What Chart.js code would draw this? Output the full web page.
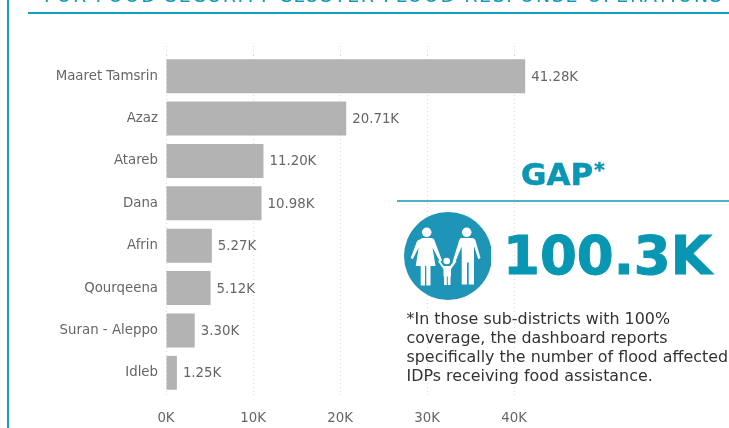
<!DOCTYPE html>
<html><head><meta charset="utf-8">
<script src="https://cdn.jsdelivr.net/npm/chart.js@4"></script>
<style>
html,body{margin:0;padding:0;background:#fff;width:729px;height:428px;overflow:hidden;font-family:"DejaVu Sans",sans-serif}
#wrap{position:absolute;left:0;top:0;width:729px;height:428px}
.a{position:absolute;white-space:nowrap}
#frame{left:7px;top:0;width:2px;height:428px;background:#13a0bd}
#title{left:44px;top:-16px;font-size:19px;letter-spacing:1.6px;color:#1199b8}
#rule{left:28px;top:12px;width:701px;height:1.5px;background:#0fa0bd}
#gap{left:521px;top:154px;font-size:31px;font-weight:bold;color:#0a97b3;line-height:40px;-webkit-text-stroke:.5px #0a97b3}
#gap sup{font-size:20px;line-height:0;vertical-align:9px;margin-left:1px}
#rule2{left:397px;top:200px;width:332px;height:1.5px;background:#4fb1c8}
#big{left:503px;top:224px;font-size:53px;font-weight:bold;color:#0897b2;line-height:64px;-webkit-text-stroke:1px #0897b2}
#note{left:406.500px;top:309px;font-size:15.900px;line-height:19px;color:#333}
#icon{left:404px;top:212px;width:87px;height:88px;overflow:hidden}
</style></head><body>
<div id="wrap">
<canvas id="c" width="729" height="428" style="position:absolute;left:0;top:0;width:729px;height:428px"></canvas>
<div class="a" id="frame"></div>
<div class="a" id="title">FOR FOOD SECURITY CLUSTER FLOOD RESPONSE OPERATIONS</div>
<div class="a" id="rule"></div>
<div class="a" id="gap">GAP<sup>*</sup></div>
<div class="a" id="rule2"></div>
<svg class="a" id="icon" viewBox="0 0 87 88">
<circle cx="44" cy="44" r="44" fill="#1e94b7"/>
<g fill="#fff">
<circle cx="22.700" cy="20.300" r="4.800"/>
<path d="M18 26h9.500c1.500 0 2.500 1 3 2.500l7.500 20-2 1.300-7.500-14.300 3 18.500h-5v19.500h-4.200v-19.500h-1.300v19.500h-4.300v-19.500h-5l3-18.500-6 11.800-2-1.300 6-16c.8-1.700 2-2.500 3.300-2.500z"/>
<circle cx="62.700" cy="20.300" r="4.800"/>
<path d="M57 26h11c1.700 0 2.800 1 3.500 2.500l5 17.500-2.200 1.300-4.300-13.300v38.500h-5.300v-22h-1.700v22h-5.300v-38l-7 17-2.200-1.300 6.500-21.500c.5-1.700 1.500-2.700 2-2.700z"/>
<circle cx="42.700" cy="49" r="3.300"/>
<path d="M39.500 54h6.500l5-6 1.500 1.300-5.500 8v7.200h-.5v8.500h-2.700v-8.500h-1v8.500h-2.800v-8.500h-.5v-7.200l-5.500-8 1.500-1.300z"/>
</g></svg>
<div class="a" id="big">100.3K</div>
<div class="a" id="note">*In those sub-districts with 100%<br>coverage, the dashboard reports<br>specifically the number of flood affected<br>IDPs receiving food assistance.</div>
</div>
<script>
const categories = ["Maaret Tamsrin","Azaz","Atareb","Dana","Afrin","Qourqeena","Suran - Aleppo","Idleb"];
const values = [41280,20710,11200,10980,5270,5120,3300,1250];
const valueLabels = ["41.28K","20.71K","11.20K","10.98K","5.27K","5.12K","3.30K","1.25K"];
const xTicks = [0,10000,20000,30000,40000];

const FONT = {family:'"DejaVu Sans", sans-serif', size:13.33};
const GREY = '#666666';
const GRID = '#d8d8d8';
const fixTicks = s => { s.ticks = xTicks.map(v => ({value:v})); };
const labelPlugin = {
  id:'barLabels',
  afterDatasetsDraw(chart){
    const ctx = chart.ctx, meta = chart.getDatasetMeta(0);
    ctx.save();
    ctx.font = FONT.size+'px '+FONT.family;
    ctx.fillStyle = GREY; ctx.textAlign='left'; ctx.textBaseline='middle';
    meta.data.forEach((b,i)=>ctx.fillText(valueLabels[i], b.x+6, b.y+1));
    ctx.restore();
  }
};
new Chart(document.getElementById('c'),{
  type:'bar',
  data:{labels:categories,datasets:[{data:values,backgroundColor:'#b3b3b3',borderWidth:0,barPercentage:0.8,categoryPercentage:1}]},
  plugins:[labelPlugin],
  options:{
    indexAxis:'y',responsive:false,animation:false,devicePixelRatio:1,
    layout:{padding:{top:46,right:0,bottom:0,left:0}},
    plugins:{legend:{display:false},tooltip:{enabled:false},title:{display:false}},
    scales:{
      x:{type:'linear',position:'bottom',min:0,max:64700,
        afterBuildTicks:fixTicks,
        afterFit(s){s.height=34;},
        border:{display:false,dash:[1,3]},
        grid:{color:GRID,lineWidth:1,tickLength:3,tickColor:GRID,tickBorderDash:[1,3]},
        ticks:{font:FONT,color:GREY,padding:14,maxRotation:0,autoSkip:false,callback:v=>(v/1000)+'K'}},
      xTop:{type:'linear',position:'top',min:0,max:64700,
        afterBuildTicks:fixTicks,
        afterFit(s){s.height=9;},
        border:{display:false},
        grid:{drawOnChartArea:false,color:GRID,tickLength:9,tickColor:GRID,tickBorderDash:[1,3]},
        ticks:{display:false}},
      y:{type:'category',position:'left',
        afterFit(s){s.width=166;},
        border:{display:false},
        grid:{display:false},
        ticks:{font:FONT,color:GREY,padding:0,autoSkip:false}}
    }
  }
});
</script>
</body></html>
